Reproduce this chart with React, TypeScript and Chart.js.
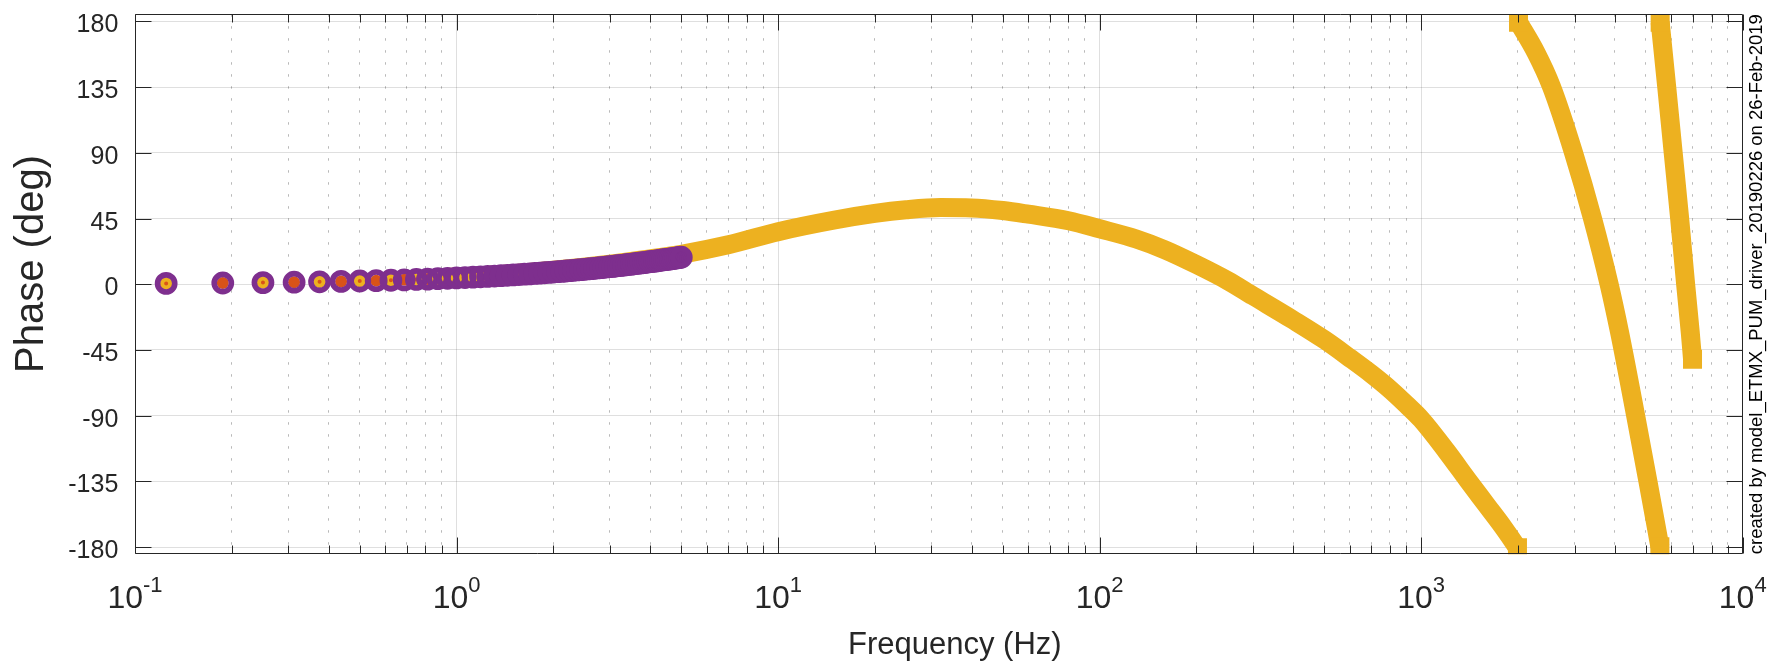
import React, { useEffect, useRef } from "react";
import { Chart, registerables } from "chart.js";

Chart.register(...registerables);

// ---- measured data (purple rings), Hz / deg ----
const measFreq = [
  0.125, 0.1875, 0.25, 0.3125, 0.375, 0.4375, 0.5, 0.5625, 0.625, 0.6875,
  0.75, 0.8125, 0.875, 0.9375, 1, 1.0625, 1.125, 1.1875, 1.25, 1.3125,
  1.375, 1.4375, 1.5, 1.5625, 1.625, 1.6875, 1.75, 1.8125, 1.875, 1.9375,
  2, 2.0625, 2.125, 2.1875, 2.25, 2.3125, 2.375, 2.4375, 2.5, 2.5625,
  2.625, 2.6875, 2.75, 2.8125, 2.875, 2.9375, 3, 3.0625, 3.125, 3.1875,
  3.25, 3.3125, 3.375, 3.4375, 3.5, 3.5625, 3.625, 3.6875, 3.75, 3.8125,
  3.875, 3.9375, 4, 4.0625, 4.125, 4.1875, 4.25, 4.3125, 4.375, 4.4375,
  4.5, 4.5625, 4.625, 4.6875, 4.75, 4.8125, 4.875, 4.9375, 5,
];
const measPhase = [
  0.56, 0.84, 1.12, 1.39, 1.67, 1.94, 2.21, 2.48, 2.75, 3.02,
  3.29, 3.55, 3.82, 4.08, 4.34, 4.6, 4.86, 5.12, 5.38, 5.63,
  5.89, 6.14, 6.39, 6.64, 6.89, 7.14, 7.39, 7.63, 7.88, 8.12,
  8.36, 8.6, 8.84, 9.08, 9.32, 9.55, 9.79, 10.02, 10.25, 10.48,
  10.71, 10.94, 11.17, 11.39, 11.62, 11.84, 12.06, 12.28, 12.5, 12.72,
  12.94, 13.15, 13.37, 13.58, 13.79, 14.0, 14.21, 14.42, 14.63, 14.83,
  15.04, 15.24, 15.44, 15.64, 15.84, 16.04, 16.24, 16.43, 16.63, 16.82,
  17.01, 17.2, 17.39, 17.58, 17.77, 17.95, 18.14, 18.32, 18.5,
];

// ---- model (yellow), three wrapped branches ----
const modelFreqA = [
  1, 1.5, 2, 3, 4, 5, 7, 10, 15, 20, 25, 32, 40, 50, 60, 80, 100, 130, 160,
  200, 250, 300, 400, 500, 600, 700, 800, 900, 1000, 1200, 1400, 1600, 1800, 1993,
];
const modelPhaseA = [
  4.8, 7.2, 9.6, 13.8, 17.4, 20.5, 27, 36, 44, 48.5, 51, 52.5, 52.3,
  50.5, 48, 43.5, 38, 31, 23.5, 13.5, 2.5, -8, -24.5, -38, -50.5, -61.5,
  -72, -82.5, -92.5, -114.5, -134.5, -151.5, -166.5, -180.5,
];
const modelFreqB = [2008, 2279, 2539, 2977, 3413, 3847, 4135, 4637, 5067, 5526];
const modelPhaseB = [179.5, 158.4, 135.7, 90.2, 44.9, -0.5, -32.3, -89, -134.4, -179.8];
const modelFreqC = [5538, 5800, 6078, 6368, 6648, 6866, 6981];
const modelPhaseC = [179.5, 135.7, 90.2, 44.9, -0.5, -32.4, -51.3];

// ---- axes ----
const yTicks = [-180, -135, -90, -45, 0, 45, 90, 135, 180];
const xDecades = [-1, 0, 1, 2, 3, 4];
const xTitle = "Frequency (Hz)";
const yTitle = "Phase (deg)";
const stamp = "created by model_ETMX_PUM_driver_20190226 on 26-Feb-2019";

const PURPLE = "#7E2F8E";
const ORANGE = "#D95319";
const YELLOW = "#EDB120";
const INK = "#262626";
const FONT = '"Liberation Sans", Arial, Helvetica, sans-serif';
const LINE_W = 19;

const pts = (fx: number[], fy: number[]) => fx.map((f, i) => ({ x: f, y: fy[i] }));

const xTickValues = (() => {
  const out: { value: number; major: boolean }[] = [];
  for (let d = -1; d < 4; d++) {
    for (let m = 1; m < 10; m++) out.push({ value: m * Math.pow(10, d), major: m === 1 });
  }
  out.push({ value: 1e4, major: true });
  return out;
})();

const matlabAxes = {
  id: "matlabAxes",
  afterDraw(chart: any) {
    const { ctx, chartArea: a, scales } = chart;
    const x = scales.x;
    const y = scales.y;
    const L = Math.round(a.left) + 0.5;
    const R = Math.round(a.right) - 0.5;
    const T = Math.round(a.top) + 0.5;
    const B = Math.round(a.bottom) - 0.5;
    ctx.save();
    ctx.strokeStyle = INK;
    ctx.lineWidth = 1;
    ctx.beginPath();
    ctx.rect(L, T, R - L, B - T);
    for (const t of xTickValues) {
      const px = Math.round(x.getPixelForValue(t.value)) + 0.5;
      const len = t.major ? 16 : 8;
      ctx.moveTo(px, B);
      ctx.lineTo(px, B - len);
      ctx.moveTo(px, T);
      ctx.lineTo(px, T + len);
    }
    for (const v of yTicks) {
      const py = Math.round(y.getPixelForValue(v)) + 0.5;
      ctx.moveTo(L, py);
      ctx.lineTo(L + 16, py);
      ctx.moveTo(R, py);
      ctx.lineTo(R - 16, py);
    }
    ctx.stroke();

    ctx.fillStyle = INK;
    ctx.font = `25px ${FONT}`;
    ctx.textAlign = "right";
    ctx.textBaseline = "alphabetic";
    for (const v of yTicks) {
      const py = y.getPixelForValue(v);
      ctx.fillText(String(v), a.left - 16.7, py + 11);
    }
    ctx.textAlign = "left";
    for (const d of xDecades) {
      const px = x.getPixelForValue(Math.pow(10, d));
      ctx.font = `32px ${FONT}`;
      const wb = ctx.measureText("10").width;
      ctx.font = `22px ${FONT}`;
      const e = String(d);
      const we = ctx.measureText(e).width;
      const start = px - (wb + we) / 2;
      ctx.font = `32px ${FONT}`;
      ctx.fillText("10", start, 607.5);
      ctx.font = `22px ${FONT}`;
      ctx.fillText(e, start + wb, 592);
    }
    // titles
    ctx.font = `31px ${FONT}`;
    ctx.textAlign = "center";
    ctx.fillText(xTitle, (a.left + a.right) / 2 + 16, 654);
    ctx.save();
    ctx.font = `40px ${FONT}`;
    ctx.translate(43, 264);
    ctx.rotate(-Math.PI / 2);
    ctx.fillText(yTitle, 0, 0);
    ctx.restore();
    // stamp on the right
    ctx.font = `18px ${FONT}`;
    const w18 = ctx.measureText(stamp).width;
    const size = (18 * (a.bottom - a.top)) / w18;
    ctx.font = `${size}px ${FONT}`;
    ctx.save();
    ctx.translate(1762, (a.top + a.bottom) / 2);
    ctx.rotate(-Math.PI / 2);
    ctx.fillStyle = "#000";
    ctx.fillText(stamp, 0, 0);
    ctx.restore();
    ctx.restore();
  },
};

const branchDataset = (fx: number[], fy: number[]) => ({
  data: pts(fx, fy),
  showLine: true,
  borderColor: YELLOW,
  backgroundColor: YELLOW,
  borderWidth: LINE_W,
  borderCapStyle: "butt",
  borderJoinStyle: "round",
  cubicInterpolationMode: "monotone",
  pointStyle: "rect",
  pointRadius: (c: any) => (c.dataIndex === 0 || c.dataIndex === fx.length - 1 ? LINE_W / Math.SQRT2 : 0),
  pointBackgroundColor: YELLOW,
  pointBorderWidth: 0,
  clip: 0,
  order: 3,
});

export default function App() {
  const ref = useRef<HTMLCanvasElement | null>(null);
  useEffect(() => {
    document.body.style.margin = "0";
    const canvas = ref.current!;
    const meas = pts(measFreq, measPhase);
    const chart = new Chart(canvas, {
      type: "scatter",
      data: {
        datasets: [
          {
            data: meas,
            showLine: false,
            pointStyle: "circle",
            pointRadius: 8.6,
            pointBorderWidth: 5.6,
            pointBorderColor: PURPLE,
            pointBackgroundColor: "rgba(0,0,0,0)",
            clip: 0,
            order: 0,
          } as any,
          {
            data: meas.filter((_, i) => i % 2 === 0),
            showLine: false,
            pointStyle: "circle",
            pointRadius: 4,
            pointBorderWidth: 4,
            pointBorderColor: YELLOW,
            pointBackgroundColor: "rgba(0,0,0,0)",
            clip: 0,
            order: 1,
          } as any,
          {
            data: meas,
            showLine: false,
            pointStyle: "circle",
            pointRadius: 6,
            pointBorderWidth: 0,
            pointBackgroundColor: ORANGE,
            clip: 0,
            order: 2,
          } as any,
          branchDataset(modelFreqA, modelPhaseA) as any,
          branchDataset(modelFreqB, modelPhaseB) as any,
          branchDataset(modelFreqC, modelPhaseC) as any,
        ],
      },
      options: {
        responsive: false,
        animation: false,
        events: [],
        layout: { padding: { left: 135, right: 43.3, top: 11, bottom: 108.7 } },
        plugins: { legend: { display: false }, tooltip: { enabled: false } },
        scales: {
          x: {
            type: "logarithmic",
            min: 0.1,
            max: 10000,
            afterBuildTicks: (s: any) => {
              s.ticks = xTickValues.map((t) => ({ value: t.value, major: t.major }));
            },
            ticks: { display: false },
            grid: {
              drawTicks: false,
              lineWidth: 1,
              color: (c: any) => (c.tick && c.tick.major ? "rgba(38,38,38,0.15)" : "rgba(38,38,38,0.32)"),
            },
            border: {
              display: false,
              dash: (c: any) => (c.tick && c.tick.major ? [] : [2.5, 9.5]),
            },
          },
          y: {
            type: "linear",
            min: -185,
            max: 185,
            afterBuildTicks: (s: any) => {
              s.ticks = yTicks.map((v) => ({ value: v }));
            },
            ticks: { display: false },
            grid: { drawTicks: false, lineWidth: 1, color: "rgba(38,38,38,0.15)" },
            border: { display: false },
          },
        },
      } as any,
      plugins: [matlabAxes as any],
    });
    return () => chart.destroy();
  }, []);
  return (
    <div style={{ width: 1786, height: 663, background: "#fff" }}>
      <canvas ref={ref} width={1786} height={663} style={{ display: "block", width: 1786, height: 663 }} />
    </div>
  );
}
